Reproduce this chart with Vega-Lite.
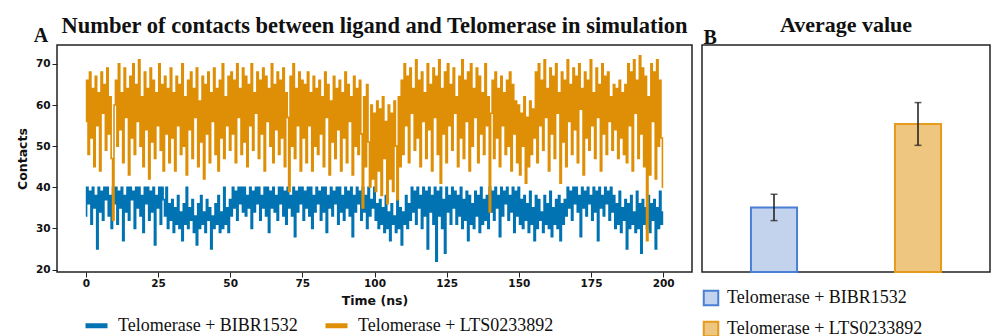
{
  "$schema": "https://vega.github.io/schema/vega-lite/v6.json",
  "background": "white",
  "padding": {"left": 15, "top": 13, "right": 0, "bottom": 0},
  "title": {"text": "A", "anchor": "start", "frame": "bounds", "offset": -33, "dx": 18, "font": "Liberation Serif", "fontWeight": "bold", "fontSize": 20, "color": "#111"},
  "datasets": {
    "ts": [
{"t":0,"b":33,"l":56},{"t":0.5,"b":40,"l":66},{"t":1,"b":36,"l":48},{"t":1.5,"b":39,"l":68},{"t":2,"b":31,"l":52},{"t":2.5,"b":40,"l":64},{"t":3,"b":35,"l":45},{"t":3.5,"b":38,"l":67},{"t":4,"b":25,"l":55},{"t":4.5,"b":40,"l":63},
{"t":5,"b":34,"l":44},{"t":5.5,"b":39,"l":68},{"t":6,"b":32,"l":58},{"t":6.5,"b":40,"l":65},{"t":7,"b":37,"l":49},{"t":7.5,"b":40,"l":69},{"t":8,"b":33,"l":53},{"t":8.5,"b":38,"l":62},{"t":9,"b":30,"l":47},{"t":9.5,"b":40,"l":32},
{"t":10,"b":36,"l":60},{"t":10.5,"b":40,"l":66},{"t":11,"b":31,"l":50},{"t":11.5,"b":39,"l":70},{"t":12,"b":35,"l":54},{"t":12.5,"b":40,"l":63},{"t":13,"b":27,"l":46},{"t":13.5,"b":38,"l":69},{"t":14,"b":34,"l":57},{"t":14.5,"b":40,"l":64},
{"t":15,"b":32,"l":43},{"t":15.5,"b":40,"l":67},{"t":16,"b":37,"l":52},{"t":16.5,"b":39,"l":70},{"t":17,"b":30,"l":48},{"t":17.5,"b":40,"l":65},{"t":18,"b":35,"l":56},{"t":18.5,"b":40,"l":71},{"t":19,"b":33,"l":50},{"t":19.5,"b":38,"l":62},
{"t":20,"b":29,"l":45},{"t":20.5,"b":40,"l":68},{"t":21,"b":36,"l":54},{"t":21.5,"b":40,"l":64},{"t":22,"b":32,"l":42},{"t":22.5,"b":39,"l":69},{"t":23,"b":34,"l":51},{"t":23.5,"b":40,"l":66},{"t":24,"b":26,"l":47},{"t":24.5,"b":38,"l":63},
{"t":25,"b":35,"l":55},{"t":25.5,"b":40,"l":70},{"t":26,"b":31,"l":49},{"t":26.5,"b":40,"l":65},{"t":27,"b":37,"l":44},{"t":27.5,"b":33,"l":67},{"t":28,"b":40,"l":53},{"t":28.5,"b":30,"l":64},{"t":29,"b":36,"l":46},{"t":29.5,"b":32,"l":69},
{"t":30,"b":37,"l":52},{"t":30.5,"b":29,"l":63},{"t":31,"b":35,"l":44},{"t":31.5,"b":31,"l":67},{"t":32,"b":38,"l":55},{"t":32.5,"b":30,"l":65},{"t":33,"b":34,"l":48},{"t":33.5,"b":27,"l":70},{"t":34,"b":36,"l":50},{"t":34.5,"b":31,"l":62},
{"t":35,"b":40,"l":43},{"t":35.5,"b":30,"l":66},{"t":36,"b":35,"l":54},{"t":36.5,"b":32,"l":68},{"t":37,"b":37,"l":47},{"t":37.5,"b":29,"l":64},{"t":38,"b":33,"l":57},{"t":38.5,"b":26,"l":69},{"t":39,"b":36,"l":45},{"t":39.5,"b":30,"l":61},
{"t":40,"b":38,"l":51},{"t":40.5,"b":31,"l":67},{"t":41,"b":34,"l":42},{"t":41.5,"b":29,"l":65},{"t":42,"b":37,"l":53},{"t":42.5,"b":32,"l":68},{"t":43,"b":35,"l":46},{"t":43.5,"b":25,"l":63},{"t":44,"b":33,"l":56},{"t":44.5,"b":30,"l":69},
{"t":45,"b":36,"l":48},{"t":45.5,"b":31,"l":64},{"t":46,"b":38,"l":44},{"t":46.5,"b":29,"l":66},{"t":47,"b":34,"l":52},{"t":47.5,"b":30,"l":70},{"t":48,"b":40,"l":47},{"t":48.5,"b":31,"l":62},{"t":49,"b":35,"l":55},{"t":49.5,"b":29,"l":67},
{"t":50,"b":37,"l":49},{"t":50.5,"b":33,"l":68},{"t":51,"b":40,"l":53},{"t":51.5,"b":35,"l":66},{"t":52,"b":39,"l":46},{"t":52.5,"b":32,"l":70},{"t":53,"b":40,"l":57},{"t":53.5,"b":36,"l":64},{"t":54,"b":40,"l":48},{"t":54.5,"b":34,"l":69},
{"t":55,"b":40,"l":51},{"t":55.5,"b":33,"l":67},{"t":56,"b":38,"l":45},{"t":56.5,"b":35,"l":65},{"t":57,"b":40,"l":55},{"t":57.5,"b":30,"l":70},{"t":58,"b":39,"l":49},{"t":58.5,"b":34,"l":63},{"t":59,"b":40,"l":58},{"t":59.5,"b":36,"l":68},
{"t":60,"b":40,"l":47},{"t":60.5,"b":32,"l":66},{"t":61,"b":38,"l":53},{"t":61.5,"b":35,"l":69},{"t":62,"b":40,"l":44},{"t":62.5,"b":33,"l":67},{"t":63,"b":40,"l":56},{"t":63.5,"b":29,"l":64},{"t":64,"b":39,"l":50},{"t":64.5,"b":35,"l":70},
{"t":65,"b":40,"l":46},{"t":65.5,"b":34,"l":65},{"t":66,"b":38,"l":54},{"t":66.5,"b":32,"l":68},{"t":67,"b":40,"l":48},{"t":67.5,"b":36,"l":66},{"t":68,"b":40,"l":52},{"t":68.5,"b":33,"l":69},{"t":69,"b":39,"l":45},{"t":69.5,"b":31,"l":63},
{"t":70,"b":40,"l":57},{"t":70.5,"b":35,"l":39},{"t":71,"b":38,"l":67},{"t":71.5,"b":33,"l":50},{"t":72,"b":40,"l":70},{"t":72.5,"b":28,"l":47},{"t":73,"b":39,"l":64},{"t":73.5,"b":34,"l":55},{"t":74,"b":40,"l":68},{"t":74.5,"b":36,"l":44},
{"t":75,"b":40,"l":66},{"t":75.5,"b":32,"l":52},{"t":76,"b":39,"l":65},{"t":76.5,"b":35,"l":46},{"t":77,"b":40,"l":68},{"t":77.5,"b":33,"l":55},{"t":78,"b":40,"l":63},{"t":78.5,"b":30,"l":44},{"t":79,"b":38,"l":67},{"t":79.5,"b":34,"l":50},
{"t":80,"b":40,"l":64},{"t":80.5,"b":36,"l":48},{"t":81,"b":39,"l":66},{"t":81.5,"b":32,"l":53},{"t":82,"b":40,"l":62},{"t":82.5,"b":34,"l":45},{"t":83,"b":40,"l":68},{"t":83.5,"b":29,"l":57},{"t":84,"b":38,"l":65},{"t":84.5,"b":35,"l":43},
{"t":85,"b":40,"l":61},{"t":85.5,"b":33,"l":51},{"t":86,"b":39,"l":67},{"t":86.5,"b":36,"l":47},{"t":87,"b":40,"l":64},{"t":87.5,"b":31,"l":54},{"t":88,"b":40,"l":66},{"t":88.5,"b":34,"l":44},{"t":89,"b":38,"l":63},{"t":89.5,"b":32,"l":52},
{"t":90,"b":40,"l":68},{"t":90.5,"b":35,"l":46},{"t":91,"b":39,"l":65},{"t":91.5,"b":33,"l":56},{"t":92,"b":40,"l":62},{"t":92.5,"b":28,"l":43},{"t":93,"b":38,"l":67},{"t":93.5,"b":34,"l":50},{"t":94,"b":40,"l":64},{"t":94.5,"b":36,"l":48},
{"t":95,"b":39,"l":66},{"t":95.5,"b":32,"l":53},{"t":96,"b":40,"l":35},{"t":96.5,"b":34,"l":62},{"t":97,"b":38,"l":45},{"t":97.5,"b":30,"l":65},{"t":98,"b":40,"l":51},{"t":98.5,"b":33,"l":40},{"t":99,"b":37,"l":60},{"t":99.5,"b":35,"l":42},
{"t":100,"b":40,"l":58},{"t":100.5,"b":32,"l":39},{"t":101,"b":36,"l":61},{"t":101.5,"b":30,"l":44},{"t":102,"b":37,"l":59},{"t":102.5,"b":31,"l":38},{"t":103,"b":35,"l":62},{"t":103.5,"b":29,"l":47},{"t":104,"b":38,"l":56},{"t":104.5,"b":30,"l":36},
{"t":105,"b":34,"l":60},{"t":105.5,"b":27,"l":42},{"t":106,"b":36,"l":58},{"t":106.5,"b":31,"l":39},{"t":107,"b":33,"l":61},{"t":107.5,"b":29,"l":50},{"t":108,"b":37,"l":37},{"t":108.5,"b":30,"l":62},{"t":109,"b":35,"l":45},{"t":109.5,"b":26,"l":66},
{"t":110,"b":34,"l":48},{"t":110.5,"b":31,"l":70},{"t":111,"b":38,"l":55},{"t":111.5,"b":30,"l":67},{"t":112,"b":36,"l":46},{"t":112.5,"b":32,"l":69},{"t":113,"b":40,"l":58},{"t":113.5,"b":34,"l":64},{"t":114,"b":39,"l":49},{"t":114.5,"b":31,"l":71},
{"t":115,"b":40,"l":52},{"t":115.5,"b":35,"l":66},{"t":116,"b":38,"l":45},{"t":116.5,"b":30,"l":68},{"t":117,"b":40,"l":56},{"t":117.5,"b":33,"l":63},{"t":118,"b":39,"l":47},{"t":118.5,"b":25,"l":70},{"t":119,"b":40,"l":54},{"t":119.5,"b":34,"l":65},
{"t":120,"b":38,"l":44},{"t":120.5,"b":31,"l":69},{"t":121,"b":40,"l":57},{"t":121.5,"b":22,"l":67},{"t":122,"b":39,"l":48},{"t":122.5,"b":33,"l":71},{"t":123,"b":40,"l":41},{"t":123.5,"b":30,"l":64},{"t":124,"b":37,"l":53},{"t":124.5,"b":24,"l":68},
{"t":125,"b":40,"l":46},{"t":125.5,"b":34,"l":70},{"t":126,"b":38,"l":55},{"t":126.5,"b":31,"l":65},{"t":127,"b":40,"l":49},{"t":127.5,"b":35,"l":69},{"t":128,"b":39,"l":58},{"t":128.5,"b":31,"l":62},{"t":129,"b":38,"l":45},{"t":129.5,"b":33,"l":67},
{"t":130,"b":40,"l":52},{"t":130.5,"b":30,"l":71},{"t":131,"b":37,"l":47},{"t":131.5,"b":32,"l":66},{"t":132,"b":39,"l":56},{"t":132.5,"b":27,"l":68},{"t":133,"b":38,"l":44},{"t":133.5,"b":31,"l":70},{"t":134,"b":36,"l":50},{"t":134.5,"b":30,"l":64},
{"t":135,"b":39,"l":57},{"t":135.5,"b":33,"l":69},{"t":136,"b":38,"l":46},{"t":136.5,"b":29,"l":67},{"t":137,"b":40,"l":53},{"t":137.5,"b":31,"l":63},{"t":138,"b":37,"l":48},{"t":138.5,"b":32,"l":70},{"t":139,"b":38,"l":55},{"t":139.5,"b":30,"l":62},
{"t":140,"b":40,"l":34},{"t":140.5,"b":34,"l":58},{"t":141,"b":39,"l":66},{"t":141.5,"b":32,"l":47},{"t":142,"b":40,"l":68},{"t":142.5,"b":35,"l":52},{"t":143,"b":38,"l":64},{"t":143.5,"b":28,"l":45},{"t":144,"b":40,"l":67},{"t":144.5,"b":33,"l":55},
{"t":145,"b":39,"l":63},{"t":145.5,"b":36,"l":48},{"t":146,"b":40,"l":66},{"t":146.5,"b":32,"l":50},{"t":147,"b":38,"l":68},{"t":147.5,"b":34,"l":44},{"t":148,"b":40,"l":65},{"t":148.5,"b":29,"l":53},{"t":149,"b":39,"l":61},{"t":149.5,"b":33,"l":46},
{"t":150,"b":40,"l":60},{"t":150.5,"b":31,"l":43},{"t":151,"b":37,"l":58},{"t":151.5,"b":30,"l":50},{"t":152,"b":38,"l":62},{"t":152.5,"b":32,"l":41},{"t":153,"b":36,"l":57},{"t":153.5,"b":29,"l":45},{"t":154,"b":39,"l":61},{"t":154.5,"b":31,"l":48},
{"t":155,"b":35,"l":59},{"t":155.5,"b":27,"l":52},{"t":156,"b":38,"l":68},{"t":156.5,"b":30,"l":46},{"t":157,"b":37,"l":70},{"t":157.5,"b":32,"l":55},{"t":158,"b":34,"l":66},{"t":158.5,"b":29,"l":49},{"t":159,"b":38,"l":71},{"t":159.5,"b":31,"l":57},
{"t":160,"b":36,"l":64},{"t":160.5,"b":30,"l":44},{"t":161,"b":39,"l":69},{"t":161.5,"b":28,"l":53},{"t":162,"b":35,"l":67},{"t":162.5,"b":31,"l":47},{"t":163,"b":37,"l":70},{"t":163.5,"b":30,"l":58},{"t":164,"b":38,"l":63},{"t":164.5,"b":27,"l":41},
{"t":165,"b":36,"l":68},{"t":165.5,"b":31,"l":51},{"t":166,"b":37,"l":66},{"t":166.5,"b":33,"l":45},{"t":167,"b":40,"l":71},{"t":167.5,"b":35,"l":56},{"t":168,"b":39,"l":65},{"t":168.5,"b":32,"l":48},{"t":169,"b":40,"l":69},{"t":169.5,"b":36,"l":54},
{"t":170,"b":40,"l":67},{"t":170.5,"b":34,"l":46},{"t":171,"b":38,"l":70},{"t":171.5,"b":28,"l":59},{"t":172,"b":40,"l":64},{"t":172.5,"b":35,"l":43},{"t":173,"b":39,"l":68},{"t":173.5,"b":33,"l":52},{"t":174,"b":40,"l":66},{"t":174.5,"b":36,"l":49},
{"t":175,"b":38,"l":71},{"t":175.5,"b":32,"l":55},{"t":176,"b":40,"l":63},{"t":176.5,"b":34,"l":47},{"t":177,"b":39,"l":69},{"t":177.5,"b":27,"l":57},{"t":178,"b":40,"l":65},{"t":178.5,"b":35,"l":44},{"t":179,"b":38,"l":70},{"t":179.5,"b":33,"l":53},
{"t":180,"b":40,"l":67},{"t":180.5,"b":36,"l":48},{"t":181,"b":39,"l":68},{"t":181.5,"b":32,"l":56},{"t":182,"b":40,"l":62},{"t":182.5,"b":34,"l":49},{"t":183,"b":38,"l":65},{"t":183.5,"b":30,"l":54},{"t":184,"b":36,"l":64},{"t":184.5,"b":31,"l":47},
{"t":185,"b":39,"l":66},{"t":185.5,"b":29,"l":52},{"t":186,"b":35,"l":63},{"t":186.5,"b":32,"l":48},{"t":187,"b":37,"l":65},{"t":187.5,"b":25,"l":46},{"t":188,"b":36,"l":70},{"t":188.5,"b":30,"l":55},{"t":189,"b":38,"l":68},{"t":189.5,"b":31,"l":44},
{"t":190,"b":34,"l":71},{"t":190.5,"b":29,"l":58},{"t":191,"b":39,"l":66},{"t":191.5,"b":30,"l":47},{"t":192,"b":36,"l":72},{"t":192.5,"b":24,"l":53},{"t":193,"b":37,"l":69},{"t":193.5,"b":31,"l":45},{"t":194,"b":35,"l":67},{"t":194.5,"b":30,"l":27},
{"t":195,"b":38,"l":62},{"t":195.5,"b":29,"l":43},{"t":196,"b":36,"l":70},{"t":196.5,"b":32,"l":56},{"t":197,"b":37,"l":68},{"t":197.5,"b":25,"l":42},{"t":198,"b":35,"l":71},{"t":198.5,"b":30,"l":50},{"t":199,"b":39,"l":66},{"t":199.5,"b":31,"l":52},
{"t":200,"b":34,"l":40}
    ],
    "avg": [
      {"g": "Telomerase + BIBR1532", "m": 35.1, "lo": 31.9, "hi": 38.3},
      {"g": "Telomerase + LTS0233892", "m": 55.4, "lo": 50.2, "hi": 60.6}
    ]
  },
  "hconcat": [
    {
      "width": 635,
      "height": 227,
      "title": {"text": "Number of contacts between ligand and Telomerase  in simulation", "anchor": "middle", "offset": 8, "fontSize": 22.5},
      "data": {"name": "ts"},
      "transform": [{"fold": ["b", "l"], "as": ["series", "contacts"]}],
      "mark": {"type": "line", "strokeWidth": 1.6, "clip": true, "interpolate": "step"},
      "encoding": {
        "x": {"field": "t", "type": "quantitative", "scale": {"domain": [-10, 210], "nice": false, "zero": false},
              "axis": {"title": "Time (ns)", "values": [0, 25, 50, 75, 100, 125, 150, 175, 200], "labelPadding": 1, "titlePadding": 6}},
        "y": {"field": "contacts", "type": "quantitative", "scale": {"domain": [19.4, 74.6], "nice": false, "zero": false},
              "axis": {"title": "Contacts", "values": [20, 30, 40, 50, 60, 70], "labelPadding": 2, "titlePadding": 6}},
        "color": {"field": "series", "type": "nominal",
                  "scale": {"domain": ["b", "l"], "range": ["#0173b2", "#de8f05"]},
                  "legend": {"title": null, "orient": "none", "direction": "horizontal", "legendX": 26, "legendY": 267,
                             "symbolType": "stroke", "symbolSize": 484, "symbolStrokeWidth": 5, "labelOffset": 8, "columnPadding": 17,
                             "labelExpr": "datum.label == 'b' ? 'Telomerase + BIBR1532' : 'Telomerase + LTS0233892'",
                             "encode": {"symbols": {"update": {"stroke": {"signal": "datum.value == 'b' ? '#1f71b3' : '#ef7f2f'"}}}}}}
      }
    },
    {
      "width": 288,
      "height": 227,
      "title": {"text": "Average value", "anchor": "middle", "offset": -10, "fontSize": 22},
      "data": {"name": "avg"},
      "layer": [
        {
          "mark": {"type": "bar", "width": {"band": 0.32}, "strokeWidth": 2},
          "encoding": {
            "x": {"field": "g", "type": "nominal", "sort": null, "scale": {"paddingInner": 0, "paddingOuter": 0},
                  "axis": {"orient": "top", "labels": false, "ticks": false, "domain": false, "title": "B",
                           "titleFont": "Liberation Serif", "titleFontWeight": "bold", "titleFontSize": 20, "titleAngle": 0,
                           "titleAlign": "left", "titleBaseline": "alphabetic", "titleX": 1, "titleY": -2, "titleAnchor": "start"}},
            "y": {"field": "m", "type": "quantitative", "scale": {"domain": [19.4, 74.6], "nice": false, "zero": false}, "axis": null},
            "y2": {"datum": 19.4},
            "fill": {"field": "g", "type": "nominal", "scale": {"range": ["#c3d3ee", "#eec67f"]},
                     "legend": {"title": null, "orient": "none", "direction": "vertical", "legendX": 0, "legendY": 244,
                                "symbolType": "square", "symbolSize": 210, "symbolStrokeWidth": 2, "labelOffset": 7, "rowPadding": 7,
                                "encode": {"symbols": {"update": {"fill": {"signal": "datum.value == 'Telomerase + BIBR1532' ? '#aecbea' : '#eec880'"}, "stroke": {"signal": "datum.value == 'Telomerase + BIBR1532' ? '#1f6fb5' : '#e8a020'"}}}}}},
            "stroke": {"field": "g", "type": "nominal", "scale": {"range": ["#4a7fd6", "#e59b1c"]},
                       "legend": {"title": null, "orient": "none", "direction": "vertical", "legendX": 0, "legendY": 244,
                                  "symbolType": "square", "symbolSize": 210, "symbolStrokeWidth": 2, "labelOffset": 7, "rowPadding": 7,
                                  "encode": {"symbols": {"update": {"fill": {"signal": "datum.value == 'Telomerase + BIBR1532' ? '#aecbea' : '#eec880'"}, "stroke": {"signal": "datum.value == 'Telomerase + BIBR1532' ? '#1f6fb5' : '#e8a020'"}}}}}}
          }
        },
        {
          "mark": {"type": "rule", "strokeWidth": 1.5, "color": "#1a1a1a"},
          "encoding": {"x": {"field": "g", "type": "nominal", "sort": null}, "y": {"field": "lo", "type": "quantitative"}, "y2": {"field": "hi"}}
        },
        {
          "mark": {"type": "tick", "size": 7, "thickness": 1.5, "color": "#1a1a1a"},
          "encoding": {"x": {"field": "g", "type": "nominal", "sort": null}, "y": {"field": "lo", "type": "quantitative"}}
        },
        {
          "mark": {"type": "tick", "size": 7, "thickness": 1.5, "color": "#1a1a1a"},
          "encoding": {"x": {"field": "g", "type": "nominal", "sort": null}, "y": {"field": "hi", "type": "quantitative"}}
        }
      ]
    }
  ],
  "spacing": 8,
  "resolve": {"scale": {"x": "independent", "y": "independent", "color": "independent", "fill": "independent", "stroke": "independent"}, "legend": {"color": "independent", "fill": "independent", "stroke": "independent"}},
  "config": {
    "view": {"stroke": "#222", "strokeWidth": 1.5},
    "axis": {"labelFont": "DejaVu Sans", "labelFontWeight": "bold", "labelFontSize": 10.5, "labelColor": "#111",
             "titleFont": "DejaVu Sans", "titleFontWeight": "bold", "titleFontSize": 12.5, "titleColor": "#111",
             "tickColor": "#222", "tickSize": 5, "tickWidth": 1, "grid": false, "domain": false},
    "legend": {"labelFont": "Liberation Serif", "labelFontSize": 18, "labelColor": "#111", "labelLimit": 400},
    "title": {"font": "Liberation Serif", "fontWeight": "bold", "fontSize": 21, "color": "#111"}
  }
}
